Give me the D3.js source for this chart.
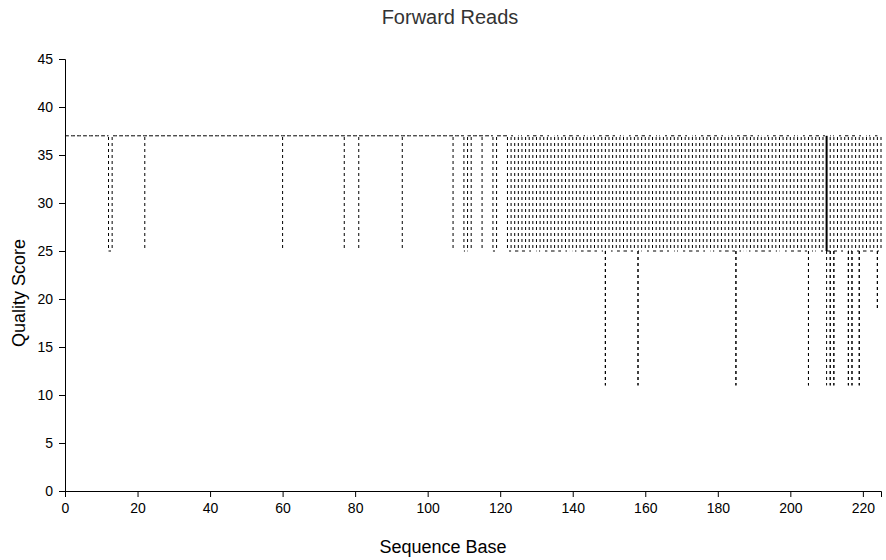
<!DOCTYPE html>
<html>
<head>
<meta charset="utf-8">
<script src="https://cdn.jsdelivr.net/npm/d3@7"></script>
<style>
  html, body { margin: 0; padding: 0; background: #fff; }
  svg { display: block; font-family: "Liberation Sans", Arial, sans-serif; }
</style>
</head>
<body>
<svg id="chart" width="886" height="560"></svg>
<script>
// Quality scores observed at each sequence base (index = base), in read order.
const qualities = [
  [37],[37],[37],[37],[37],[37],[37],[37],[37],[37],                 // 0-9
  [37],[37],[37,25],[25,37],[37],[37],[37],[37],[37],[37],           // 10-19
  [37],[37],[37,25,37],[37],[37],[37],[37],[37],[37],[37],           // 20-29
  [37],[37],[37],[37],[37],[37],[37],[37],[37],[37],                 // 30-39
  [37],[37],[37],[37],[37],[37],[37],[37],[37],[37],                 // 40-49
  [37],[37],[37],[37],[37],[37],[37],[37],[37],[37],                 // 50-59
  [37,25,37],[37],[37],[37],[37],[37],[37],[37],[37],[37],           // 60-69
  [37],[37],[37],[37],[37],[37],[37],[37,25,37],[37],[37],           // 70-79
  [37],[37,25,37],[37],[37],[37],[37],[37],[37],[37],[37],           // 80-89
  [37],[37],[37],[37,25,37],[37],[37],[37],[37],[37],[37],           // 90-99
  [37],[37],[37],[37],[37],[37],[37],[37,25,37],[37],[37],           // 100-109
  [37,25],[25,37],[37,25,37],[37],[37],[37,25,37],[37],[37],[37,25],[25,37], // 110-119
  [37],[37],[37,25],[25,37],[37,25],[25,37],[37,25],[25,37],[37,25],[25,37], // 120-129
  [37,25],[25,37],[37,25],[25,37],[37,25],[25,37],[37,25],[25,37],[37,25],[25,37], // 130-139
  [37,25],[25,37],[37,25],[25,37],[37,25],[25,37],[37,25],[25,37],[37,25],[25,11,37], // 140-149
  [37,25],[25,37],[37,25],[25,37],[37,25],[25,37],[37,25],[25,37],[37,11,25],[25,37], // 150-159
  [37,25],[25,37],[37,25],[25,37],[37,25],[25,37],[37,25],[25,37],[37,25],[25,37], // 160-169
  [37,25],[25,37],[37,25],[25,37],[37,25],[25,37],[37,25],[25,37],[37,25],[25,37], // 170-179
  [37,25],[25,37],[37,25],[25,37],[37,25],[25,11,37],[37,25],[25,37],[37,25],[25,37], // 180-189
  [37,25],[25,37],[37,25],[25,37],[37,25],[25,37],[37,25],[25,37],[37,25],[25,37], // 190-199
  [37,25],[25,37],[37,25],[25,37],[37,25],[25,11,37],[37,25],[25,37],[37,25],[25,37], // 200-209
  [37,25,37,25,37,25,37,25,11,25],[25,11,37],[37,11,25],[25,37],[37,25],[25,37],[37,11,25],[25,11,37],[37,25],[25,11,37], // 210-219
  [37,25],[25,37],[37,25],[25,37],[37,19,25],[25,37]                 // 220-225
];

const xDomain = [0, 225];
const yDomain = [0, 45];
const titleText = "Forward Reads";
const xLabel = "Sequence Base";
const yLabel = "Quality Score";

const W = 886, H = 560;
const margin = { top: 59, right: 5, bottom: 69, left: 65 };
const width = W - margin.left - margin.right;
const height = H - margin.top - margin.bottom;
const V_DASH = [3, 3];   // dash pattern on drops
const H_DASH = [4, 2];   // dash pattern on steps between bases
const period = p => p[0] + p[1];

const svg = d3.select("#chart");
const g = svg.append("g").attr("transform", `translate(${margin.left},${margin.top})`);

const x = d3.scaleLinear().domain(xDomain).range([0, width]);
const y = d3.scaleLinear().domain(yDomain).range([height, 0]);

// Walk the observations base by base and split the trace into segments
const points = [];
qualities.forEach((qs, base) => qs.forEach(q => points.push({ base, q })));

const vertical = new Map();   // same-base moves, keyed so repeats stack
const horizontal = [];        // moves from one base to the next
for (let i = 1; i < points.length; i++) {
  const a = points[i - 1], b = points[i];
  if (a.base === b.base) {
    if (a.q === b.q) continue;
    const hi = Math.max(a.q, b.q), lo = Math.min(a.q, b.q);
    const key = `${a.base}|${hi}|${lo}`;
    const v = vertical.get(key) || { base: a.base, hi, lo, n: 0 };
    v.n += 1;
    vertical.set(key, v);
  } else {
    horizontal.push({ x0: a.base, y0: a.q, x1: b.base, y1: b.q });
  }
}

const trace = g.append("g")
  .attr("fill", "none")
  .attr("stroke", "#000")
  .attr("stroke-width", 1);

// Steps between bases: dashes follow one shared horizontal phase
trace.selectAll("line.step")
  .data(horizontal)
  .join("line")
  .attr("class", "step")
  .attr("x1", d => x(d.x0)).attr("y1", d => y(d.y0))
  .attr("x2", d => x(d.x1)).attr("y2", d => y(d.y1))
  .attr("stroke-dasharray", H_DASH.join(","))
  .attr("stroke-dashoffset", d => x(d.x0) % period(H_DASH));

// Drops within a base: dashes share one vertical phase so repeats coincide
const vList = Array.from(vertical.values());
trace.selectAll("line.drop")
  .data(vList)
  .join("line")
  .attr("class", "drop")
  .attr("x1", d => x(d.base)).attr("y1", d => y(d.hi))
  .attr("x2", d => x(d.base)).attr("y2", d => y(d.lo))
  .attr("stroke-dasharray", V_DASH.join(","))
  .attr("stroke-dashoffset", d => y(d.hi) % period(V_DASH));

// Drops repeated by many reads read as a solid bar
trace.selectAll("line.heavy")
  .data(vList.filter(d => d.n >= 3))
  .join("line")
  .attr("class", "heavy")
  .attr("x1", d => x(d.base)).attr("y1", d => y(d.hi))
  .attr("x2", d => x(d.base)).attr("y2", d => y(d.lo))
  .attr("stroke-width", 2);

// Axes
const xAxis = g.append("g")
  .attr("transform", `translate(0,${height})`)
  .call(d3.axisBottom(x).ticks(10).tickPadding(6));
const yAxis = g.append("g")
  .call(d3.axisLeft(y).ticks(10).tickPadding(6));

[xAxis, yAxis].forEach(ax => {
  ax.selectAll("text").attr("font-size", 14).attr("font-family", "Liberation Sans, Arial, sans-serif").attr("fill", "#000");
  ax.selectAll("path, line").attr("stroke", "#000");
});

// Titles
svg.append("text")
  .attr("x", 450).attr("y", 24)
  .attr("text-anchor", "middle")
  .attr("font-size", 20)
  .attr("fill", "#333")
  .text(titleText);

svg.append("text")
  .attr("x", 443).attr("y", 553)
  .attr("text-anchor", "middle")
  .attr("font-size", 18)
  .attr("fill", "#000")
  .text(xLabel);

svg.append("text")
  .attr("transform", `translate(25,293) rotate(-90)`)
  .attr("text-anchor", "middle")
  .attr("font-size", 18)
  .attr("fill", "#000")
  .text(yLabel);
</script>
</body>
</html>
